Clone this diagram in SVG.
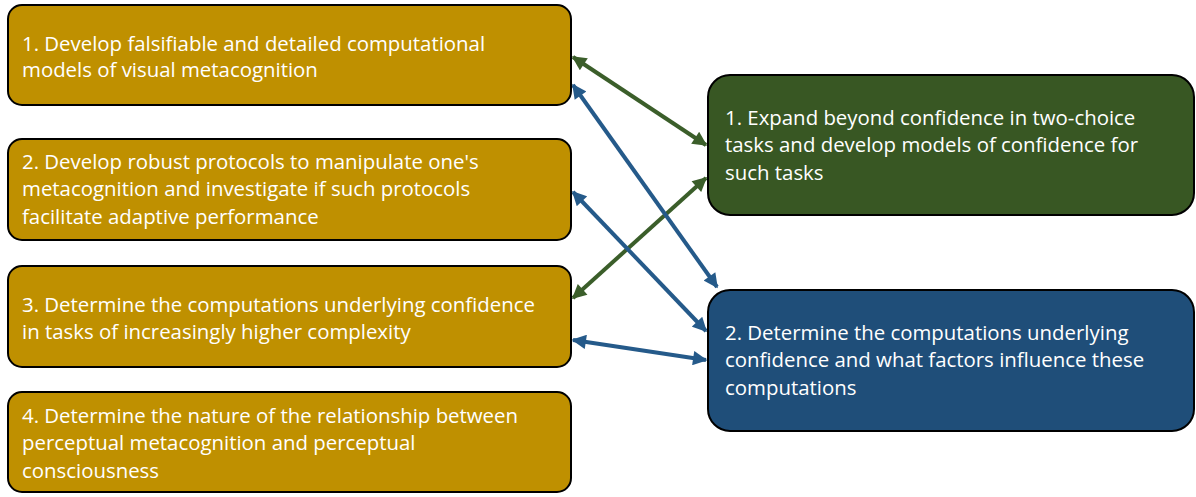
<svg xmlns="http://www.w3.org/2000/svg" width="1196" height="497" viewBox="0 0 1196 497">
<style>
.box{stroke:#000;stroke-width:2}
.gold{fill:#BF9000}
.green{fill:#385723}
.blue{fill:#1F4E79}
text{font-family:"Open Sans","Noto Sans",sans-serif;font-size:20.4px;fill:#fff}
.cg{stroke:#3B5E2A;stroke-width:4;fill:none}
.cb{stroke:#255A8A;stroke-width:4;fill:none}
</style>
<defs>
<marker id="ag" viewBox="0 0 10 10" refX="9" refY="5" markerWidth="4" markerHeight="3.6" orient="auto-start-reverse" markerUnits="strokeWidth"><path d="M0,0 L10,5 L0,10 z" fill="#3B5E2A"/></marker>
<marker id="ab" viewBox="0 0 10 10" refX="9" refY="5" markerWidth="4" markerHeight="3.6" orient="auto-start-reverse" markerUnits="strokeWidth"><path d="M0,0 L10,5 L0,10 z" fill="#255A8A"/></marker>
</defs>
<g id="connectors">
<line class="cg" x1="573" y1="57" x2="706" y2="145" marker-start="url(#ag)" marker-end="url(#ag)"/>
<line class="cg" x1="573" y1="298" x2="706" y2="178" marker-start="url(#ag)" marker-end="url(#ag)"/>
<line class="cb" x1="573" y1="85" x2="717" y2="287" marker-start="url(#ab)" marker-end="url(#ab)"/>
<line class="cb" x1="573" y1="192" x2="706" y2="331" marker-start="url(#ab)" marker-end="url(#ab)"/>
<line class="cb" x1="573" y1="340" x2="706" y2="360" marker-start="url(#ab)" marker-end="url(#ab)"/>
</g>
<g id="l1"><rect class="box gold" x="8" y="5" width="563" height="100" rx="14"/>
<text x="22" y="51">1. Develop falsifiable and detailed computational</text>
<text x="22" y="77">models of visual metacognition</text></g>
<g id="l2"><rect class="box gold" x="8" y="139" width="563" height="101" rx="14"/>
<text x="22" y="169">2. Develop robust protocols to manipulate one's</text>
<text x="22" y="196">metacognition and investigate if such protocols</text>
<text x="22" y="224">facilitate adaptive performance</text></g>
<g id="l3"><rect class="box gold" x="8" y="266" width="563" height="101" rx="14"/>
<text x="22" y="312">3. Determine the computations underlying confidence</text>
<text x="22" y="339">in tasks of increasingly higher complexity</text></g>
<g id="l4"><rect class="box gold" x="8" y="392" width="563" height="100" rx="14"/>
<text x="22" y="423">4. Determine the nature of the relationship between</text>
<text x="22" y="450">perceptual metacognition and perceptual</text>
<text x="22" y="478">consciousness</text></g>
<g id="r1"><rect class="box green" x="708" y="75" width="486" height="140" rx="22"/>
<text x="725" y="125">1. Expand beyond confidence in two-choice</text>
<text x="725" y="152">tasks and develop models of confidence for</text>
<text x="725" y="180">such tasks</text></g>
<g id="r2"><rect class="box blue" x="708" y="290" width="486" height="141" rx="22"/>
<text x="725" y="340">2. Determine the computations underlying</text>
<text x="725" y="367">confidence and what factors influence these</text>
<text x="725" y="395">computations</text></g>
</svg>
